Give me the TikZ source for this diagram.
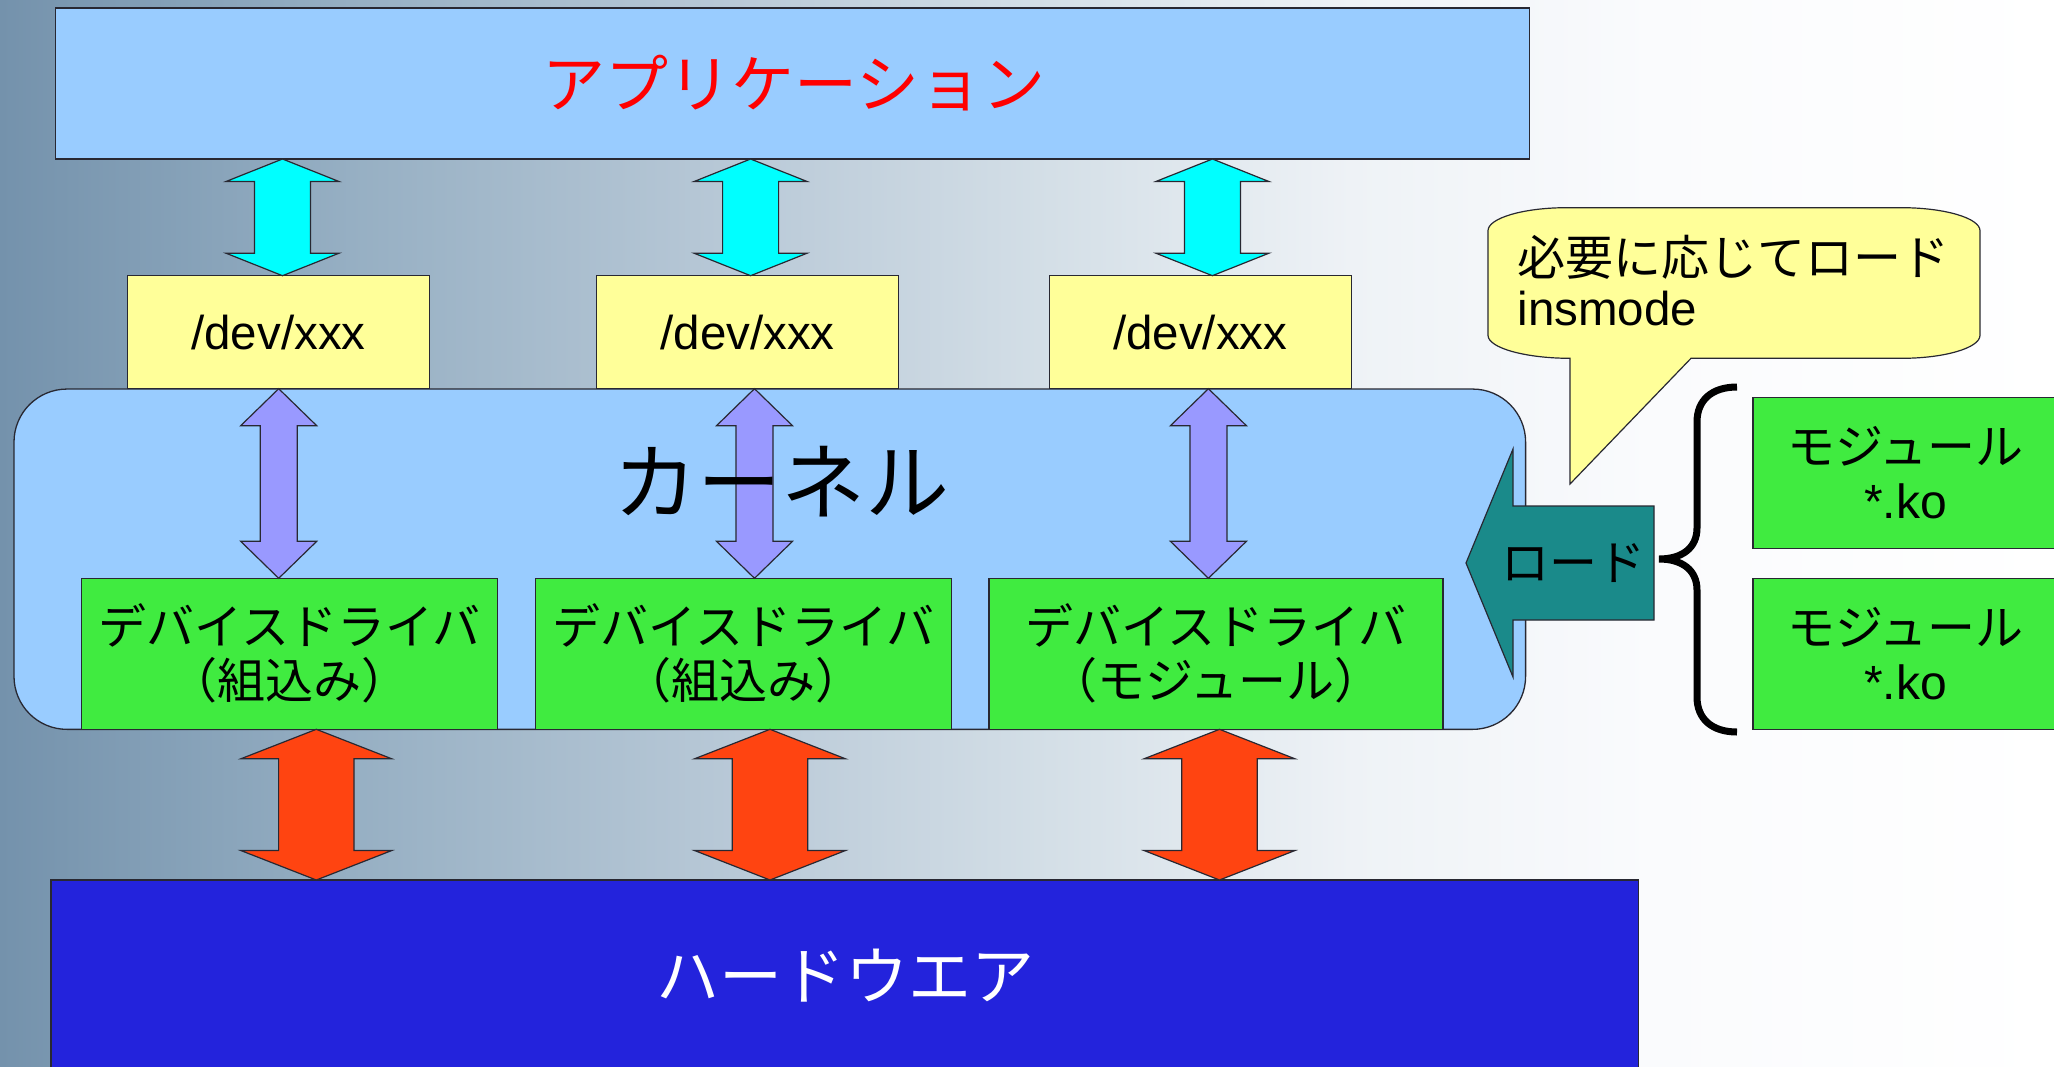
\documentclass[tikz,border=0pt]{standalone}
\usepackage{fontspec}
\setmainfont{Liberation Sans}
\newfontfamily\jp{Noto Sans CJK JP}
\usetikzlibrary{calc}
\definecolor{appblue}{RGB}{153,204,255}
\definecolor{devyel}{RGB}{255,255,153}
\definecolor{drvgreen}{RGB}{64,235,64}
\definecolor{arrcyan}{RGB}{0,255,255}
\definecolor{arrpurple}{RGB}{153,153,255}
\definecolor{arrred}{RGB}{255,68,17}
\definecolor{hwblue}{RGB}{35,35,220}
\definecolor{loadteal}{RGB}{26,138,138}
\definecolor{edgecol}{RGB}{40,40,50}
\definecolor{bga}{RGB}{116,146,172}
\definecolor{bgb}{RGB}{150,175,195}
\definecolor{bgc}{RGB}{186,202,216}
\definecolor{bgd}{RGB}{212,223,231}
\definecolor{bge}{RGB}{238,242,246}
\definecolor{bgf}{RGB}{250,251,253}
\tikzset{
  box/.style={draw=edgecol, line width=1.3pt, inner sep=0pt, outer sep=0pt},
  appbox/.style={box, fill=appblue},
  devbox/.style={box, fill=devyel, font=\fontsize{47.5}{54}\selectfont},
  drvbox/.style={box, fill=drvgreen, align=center, font=\jp\fontsize{48}{54}\selectfont},
  modbox/.style={box, fill=drvgreen, align=center, font=\jp\fontsize{48}{54}\selectfont},
  cyanarr/.style={draw=edgecol, line width=1.2pt, fill=arrcyan, line join=miter},
  purparr/.style={draw=edgecol, line width=1.2pt, fill=arrpurple, line join=miter},
  redarr/.style={draw=edgecol, line width=1.2pt, fill=arrred, line join=miter},
  lbl/.style={inner sep=0pt, outer sep=0pt}
}
% style, x, top anchor, bottom anchor, head half width, shaft half width, head length
\newcommand\vblock[7]{%
  \draw[#1] let \p1=(#3), \p2=(#4) in
    (#2pt,\y1) -- (#2pt+#5pt,\y1-#7pt) -- (#2pt+#6pt,\y1-#7pt)
    -- (#2pt+#6pt,\y2+#7pt) -- (#2pt+#5pt,\y2+#7pt) -- (#2pt,\y2)
    -- (#2pt-#5pt,\y2+#7pt) -- (#2pt-#6pt,\y2+#7pt)
    -- (#2pt-#6pt,\y1-#7pt) -- (#2pt-#5pt,\y1-#7pt) -- cycle;}
\begin{document}
\begin{tikzpicture}[x=1pt,y=-1pt]
\clip (0,0) rectangle (2054,1066);
% background
\shade[left color=bga, right color=bgb] (0,0) rectangle (351,1066);
\shade[left color=bgb, right color=bgc] (350,0) rectangle (751,1066);
\shade[left color=bgc, right color=bgd] (750,0) rectangle (1051,1066);
\shade[left color=bgd, right color=bge] (1050,0) rectangle (1351,1066);
\shade[left color=bge, right color=bgf] (1350,0) rectangle (1651,1066);
\shade[left color=bgf, right color=white] (1650,0) rectangle (2054,1066);

% application
\node[appbox, minimum width=1474pt, minimum height=151pt] (app) at (792.6,83.5) {};
\node[lbl, text=red, font=\jp\fontsize{63}{70}\selectfont] (apptext) at (794,83) {アプリケーション};

% /dev boxes
\node[devbox, minimum width=302pt, minimum height=113pt] (dev1) at (278.4,332.2) {/dev/xxx};
\node[devbox, minimum width=302pt, minimum height=113pt] (dev2) at (747.5,332.2) {/dev/xxx};
\node[devbox, minimum width=302pt, minimum height=113pt] (dev3) at (1200.3,332.2) {/dev/xxx};

\vblock{cyanarr}{282.5}{app.south}{dev1.north}{56.5}{28}{22.5}
\vblock{cyanarr}{750.6}{app.south}{dev2.north}{56.5}{28}{22.5}
\vblock{cyanarr}{1212.4}{app.south}{dev3.north}{56.5}{28}{22.5}

% kernel
\node[box, fill=appblue, rounded corners=53pt, minimum width=1511.6pt, minimum height=340.3pt] (kernel) at (769.8,559.2) {};

% drivers
\node[drvbox, minimum width=415.8pt, minimum height=151pt] (drv1) at (289.5,653.8) {デバイスドライバ\\（組込み）};
\node[drvbox, minimum width=415.8pt, minimum height=151pt] (drv2) at (743.6,653.8) {デバイスドライバ\\（組込み）};
\node[drvbox, minimum width=454pt, minimum height=151pt] (drv3) at (1216,653.8) {デバイスドライバ\\（モジュール）};

\vblock{purparr}{278.7}{dev1.south}{drv1.north}{38}{18.5}{37}
\vblock{purparr}{754.5}{dev2.south}{drv2.north}{38}{18.5}{37}
\vblock{purparr}{1208.4}{dev3.south}{drv3.north}{38}{18.5}{37}

\node[lbl, font=\jp\fontsize{84}{90}\selectfont] (kerneltext) at (781,482) {カーネル};

% hardware
\node[box, fill=hwblue, minimum width=1587.7pt, minimum height=192pt] (hw) at (844.9,976) {};
\node[lbl, text=white, font=\jp\fontsize{63}{70}\selectfont] (hwtext) at (845,976) {ハードウエア};

\vblock{redarr}{316.3}{drv1.south}{hw.north}{75.5}{37.7}{29.5}
\vblock{redarr}{770}{drv2.south}{hw.north}{75.5}{37.7}{29.5}
\vblock{redarr}{1219.5}{drv3.south}{hw.north}{75.5}{37.7}{29.5}

% callout
\draw[draw=edgecol, line width=1.2pt, fill=devyel]
  (1488,230.7) .. controls (1488,218.0) and (1523.9,207.7) .. (1566,207.7)
  -- (1902,207.7) .. controls (1944.1,207.7) and (1980,218.0) .. (1980,230.7)
  -- (1980,335.3) .. controls (1980,348.0) and (1944.1,358.3) .. (1902,358.3)
  -- (1691,358.3) -- (1570,484) -- (1570,358.3)
  .. controls (1525.7,358.3) and (1488,348.0) .. (1488,335.3) -- cycle;
\node[lbl, anchor=base west, font=\jp\fontsize{48}{54}\selectfont] (call1) at (1517,275) {必要に応じてロード};
\node[lbl, anchor=base west, font=\fontsize{47.5}{54}\selectfont] (call2) at (1517.6,325) {insmode};

% modules
\node[modbox, minimum width=305pt, minimum height=151pt] (mod1) at (1905.5,472.8) {モジュール\\{\rmfamily *.ko}};
\node[modbox, minimum width=305pt, minimum height=151pt] (mod2) at (1905.5,653.8) {モジュール\\{\rmfamily *.ko}};

% brace
\coordinate (bracetip) at (1659,559);
\draw[line width=7pt, black]
  (1737,387) .. controls (1712,387) and (1697,400) .. (1697,422)
  -- (1697,528) .. controls (1697,548) and (1682,559) .. (bracetip)
  .. controls (1682,559) and (1697,570) .. (1697,590)
  -- (1697,697) .. controls (1697,719) and (1712,732) .. (1737,732);

% load arrow
\coordinate (loadtip) at (1466,563);
\draw[draw=edgecol, line width=1.2pt, fill=loadteal, line join=miter]
  (loadtip) -- (1513,449) -- (1513,506) -- (1654,506) -- (1654,620)
  -- (1513,620) -- (1513,677) -- cycle;
\node[lbl, font=\jp\fontsize{48}{54}\selectfont] (loadtext) at (1573,563) {ロード};
\end{tikzpicture}
\end{document}
